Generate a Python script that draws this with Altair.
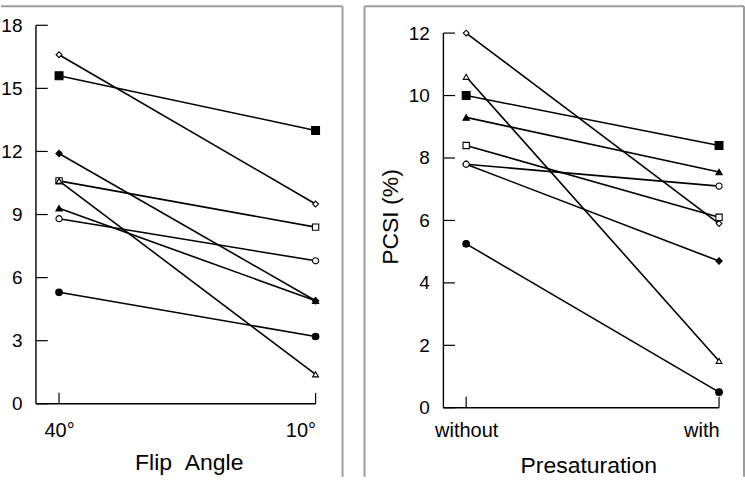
import altair as alt
import pandas as pd

FONT = "Liberation Sans"

# Eight subjects, each drawn with its own marker in both panels
subjects = ["S1", "S2", "S3", "S4", "S5", "S6", "S7", "S8"]

# Panel 1: flip angle 40° vs 10°
flip_labels = ["40°", "10°"]
flip_40 = [16.6, 15.6, 11.9, 10.6, 10.6, 9.3, 8.8, 5.3]
flip_10 = [9.5, 13.0, 4.9, 8.4, 1.4, 4.9, 6.8, 3.2]
flip_ticks = [0, 3, 6, 9, 12, 15, 18]

# Panel 2: PCSI (%) without vs with presaturation
presat_labels = ["without", "with"]
presat_without = [12.0, 10.0, 7.8, 8.4, 10.6, 9.3, 7.8, 5.25]
presat_with = [5.9, 8.4, 4.7, 6.1, 1.5, 7.55, 7.1, 0.5]
presat_ticks = [0, 2, 4, 6, 8, 10, 12]

# marker style per subject: (shape, fill)
marker_shape = {
    "S1": "diamond", "S2": "square", "S3": "diamond", "S4": "square",
    "S5": "triangle-up", "S6": "triangle-up", "S7": "circle", "S8": "circle",
}
marker_fill = {
    "S1": "open", "S2": "filled", "S3": "filled", "S4": "open",
    "S5": "open", "S6": "filled", "S7": "open", "S8": "filled",
}
marker_size = {
    "S1": 34, "S2": 62, "S3": 40, "S4": 40,
    "S5": 34, "S6": 40, "S7": 38, "S8": 44,
}

X_MIN = -0.09
FRAME = "#9c9c9c"
PLOT_H = 383


def long_table(first, second):
    rows = []
    for s, a, b in zip(subjects, first, second):
        for pos, v in ((0, a), (1, b)):
            rows.append({
                "subject": s, "pos": pos, "value": v,
                "shape": marker_shape[s], "fill": marker_fill[s],
                "size": marker_size[s],
            })
    return pd.DataFrame(rows)


def panel(first, second, labels, ticks, y_top, y_min, width, ytitle,
          x_title, x_title_pad, x_title_x, frame_left, frame_right,
          draw_left_frame, ytick_len, xtick_len):
    df = long_table(first, second)
    label_expr = f"datum.value == 0 ? '{labels[0]}' : '{labels[1]}'"

    x_scale = alt.Scale(domain=[X_MIN, 1.0], nice=False, zero=False)
    y_scale = alt.Scale(domain=[y_min, y_top], nice=False, zero=False)
    x_axis = alt.Axis(
        values=[0, 1], labelExpr=label_expr, title=x_title,
        domain=False, ticks=False, tickSize=0, grid=False,
        labelPadding=13, labelFontSize=20, titlePadding=x_title_pad,
        titleX=x_title_x,
    )
    y_axis_kwargs = dict(
        values=ticks, domain=False, ticks=False, tickSize=0, grid=False,
        labelPadding=14, labelFontSize=19,
    )
    if ytitle:
        y_axis_kwargs.update(title=ytitle, titlePadding=6)
    else:
        y_axis_kwargs.update(title="")
    y_axis = alt.Axis(**y_axis_kwargs)

    base = alt.Chart(df)
    lines = base.mark_line(color="black", strokeWidth=1.6).encode(
        x=alt.X("pos:Q", scale=x_scale, axis=x_axis),
        y=alt.Y("value:Q", scale=y_scale, axis=y_axis),
        detail="subject:N",
    )
    points = base.mark_point(
        filled=True, stroke="black", strokeWidth=1.1, opacity=1
    ).encode(
        x=alt.X("pos:Q", scale=x_scale, axis=x_axis),
        y=alt.Y("value:Q", scale=y_scale, axis=y_axis),
        shape=alt.Shape("shape:N", scale=None, legend=None),
        fill=alt.Fill(
            "fill:N",
            scale=alt.Scale(domain=["open", "filled"], range=["white", "black"]),
            legend=None,
        ),
        size=alt.Size("size:Q", scale=None, legend=None),
    )

    one = pd.DataFrame({"a": [0]})
    tick_top = ticks[-1]
    # axis lines: vertical from 0 to the top tick, horizontal from the y axis to the last category
    y_line = alt.Chart(one).mark_rule(color="black", strokeWidth=1.4).encode(
        x=alt.XDatum(X_MIN, scale=x_scale, axis=x_axis),
        y=alt.YDatum(0, scale=y_scale, axis=y_axis),
        y2=alt.Y2Datum(tick_top),
    )
    x_line = alt.Chart(one).mark_rule(color="black", strokeWidth=1.4).encode(
        x=alt.XDatum(X_MIN, scale=x_scale, axis=x_axis),
        x2=alt.X2Datum(1.0),
        y=alt.YDatum(0, scale=y_scale, axis=y_axis),
    )
    # inward tick marks
    yt = alt.Chart(pd.DataFrame({"t": ticks})).mark_rule(
        color="black", strokeWidth=1.2
    ).encode(
        x=alt.XDatum(X_MIN, scale=x_scale, axis=x_axis),
        x2=alt.X2Datum(X_MIN + ytick_len),
        y=alt.Y("t:Q", scale=y_scale, axis=y_axis),
    )
    xt = alt.Chart(pd.DataFrame({"t": [0, 1]})).mark_rule(
        color="black", strokeWidth=1.2
    ).encode(
        x=alt.X("t:Q", scale=x_scale, axis=x_axis),
        y=alt.YDatum(0, scale=y_scale, axis=y_axis),
        y2=alt.Y2Datum(xtick_len),
    )

    # panel frame
    frame_layers = [
        alt.Chart(one).mark_rule(color=FRAME, strokeWidth=2).encode(
            x=alt.value(frame_left), x2=alt.value(frame_right), y=alt.value(-19)
        ),
        alt.Chart(one).mark_rule(color=FRAME, strokeWidth=2).encode(
            x=alt.value(frame_right), y=alt.value(-19), y2=alt.value(452)
        ),
    ]
    if draw_left_frame:
        frame_layers.append(
            alt.Chart(one).mark_rule(color=FRAME, strokeWidth=2).encode(
                x=alt.value(frame_left), y=alt.value(-19), y2=alt.value(452)
            )
        )

    return alt.layer(
        lines, y_line, x_line, yt, xt, points, *frame_layers
    ).properties(width=width, height=PLOT_H)


left = panel(
    flip_40, flip_10, flip_labels, flip_ticks,
    y_top=18.0, y_min=-0.19, width=280, ytitle=None,
    x_title="Flip \u00a0Angle", x_title_pad=11, x_title_x=153,
    frame_left=-35, frame_right=307, draw_left_frame=False,
    ytick_len=0.046, xtick_len=0.52,
)
right = panel(
    presat_without, presat_with, presat_labels, presat_ticks,
    y_top=12.25, y_min=0.0, width=276, ytitle="PCSI (%)",
    x_title="Presaturation", x_title_pad=14, x_title_x=145,
    frame_left=-79, frame_right=301, draw_left_frame=True,
    ytick_len=0.046, xtick_len=0.35,
)

chart = alt.hconcat(left, right, spacing=20).properties(
    padding={"left": 0, "top": 5, "right": 0, "bottom": 0},
    background="white",
).configure_view(stroke=None).configure_axis(
    labelFont=FONT, labelColor="black",
    titleFont=FONT, titleFontSize=23, titleFontWeight="normal",
    titleColor="black",
)

chart.save("out.html", embed_options={"renderer": "svg", "actions": False})
